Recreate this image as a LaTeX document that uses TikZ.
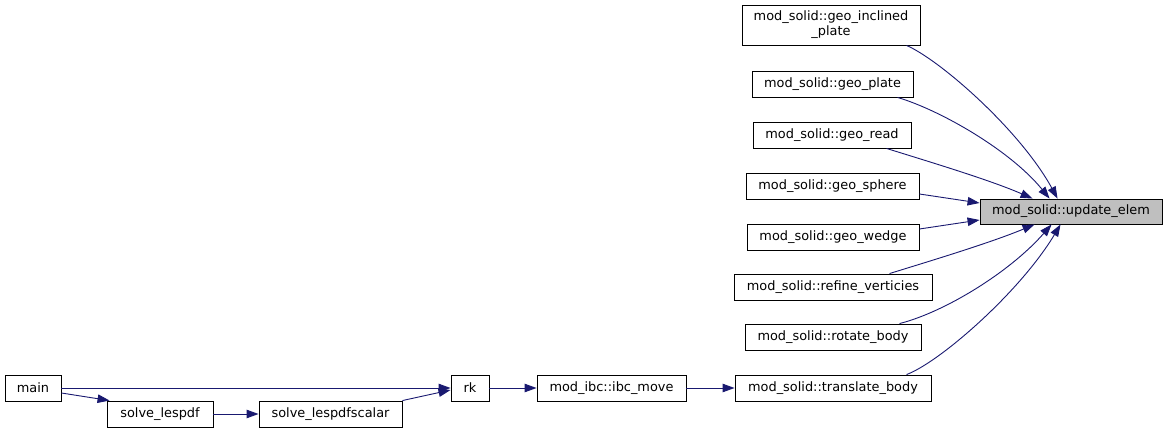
\documentclass[tikz,border=0pt]{standalone}
\usepackage{fontspec}
\setmainfont{DejaVu Sans}
\usetikzlibrary{arrows.meta,calc}
\definecolor{edgeblue}{HTML}{191970}
\definecolor{hlgrey}{HTML}{BFBFBF}
\begin{document}
\begin{tikzpicture}[x=1pt,y=-1pt,
  fn/.style={draw=black,line width=0.9pt,inner sep=0pt,minimum height=26pt,
    font=\fontsize{12.9}{15}\selectfont},
  call/.style={draw=edgeblue,line width=0.9pt,
    -{Triangle[length=12pt,width=8.5pt,fill=edgeblue]}}]
\useasboundingbox (0,0) rectangle (1168,433);
% nodes
\node[fn,minimum width=178pt,minimum height=40pt,align=center] (gip) at (831,25) {mod\_solid::geo\_inclined\\\_plate};
\node[fn,minimum width=161pt] (gp) at (832.5,84) {mod\_solid::geo\_plate};
\node[fn,minimum width=158pt] (gr) at (832,135) {mod\_solid::geo\_read};
\node[fn,minimum width=173pt] (gs) at (832.5,186) {mod\_solid::geo\_sphere};
\node[fn,minimum width=182pt,minimum height=25pt,fill=hlgrey] (ue) at (1071,211.5) {mod\_solid::update\_elem};
\node[fn,minimum width=172pt] (gw) at (833,237) {mod\_solid::geo\_wedge};
\node[fn,minimum width=198pt] (rv) at (833,287) {mod\_solid::refine\_verticies};
\node[fn,minimum width=176pt] (rb) at (833,337) {mod\_solid::rotate\_body};
\node[fn,minimum width=196pt] (tb) at (833,388) {mod\_solid::translate\_body};
\node[fn,minimum width=56pt] (main) at (33,388) {main};
\node[fn,minimum width=106pt] (sl) at (160,414) {solve\_lespdf};
\node[fn,minimum width=143pt] (ss) at (330.5,414) {solve\_lespdfscalar};
\node[fn,minimum width=38pt] (rk) at (470,388) {rk};
\node[fn,minimum width=149pt] (im) at (611.5,388) {mod\_ibc::ibc\_move};
% edges into update_elem
\draw[call] ($(gip.south west)+(165,0)$) .. controls (940,60) and (1020,130) .. ($(ue.north west)+(78,0)$);
\draw[call] ($(gp.south west)+(146,0)$) .. controls (940,110) and (1010,150) .. ($(ue.north west)+(70,0)$);
\draw[call] ($(gr.south west)+(134,0)$) .. controls (930,162) and (990,180) .. ($(ue.north west)+(53,0)$);
\draw[call] ($(gs.east)+(0,8)$) -- ($(ue.west)+(0,-8.5)$);
\draw[call] ($(gw.east)+(0,-8)$) -- ($(ue.west)+(0,8.5)$);
\draw[call] ($(rv.north west)+(156,0)$) .. controls (930,261) and (990,243) .. ($(ue.south west)+(55,0)$);
\draw[call] ($(rb.north west)+(155,0)$) .. controls (945,312) and (1010,272) .. ($(ue.south west)+(72,0)$);
\draw[call] ($(tb.north west)+(172,0)$) .. controls (940,362) and (1020,292) .. ($(ue.south west)+(81,0)$);
% lower chain
\draw[call] (main.east) -- (rk.west);
\draw[call] ($(main.east)+(0,5)$) -- ($(sl.north west)+(3,0)$);
\draw[call] (sl.east) -- (ss.west);
\draw[call] (ss.north east) -- ($(rk.west)+(0,2)$);
\draw[call] (rk.east) -- (im.west);
\draw[call] (im.east) -- (tb.west);
\end{tikzpicture}
\end{document}
